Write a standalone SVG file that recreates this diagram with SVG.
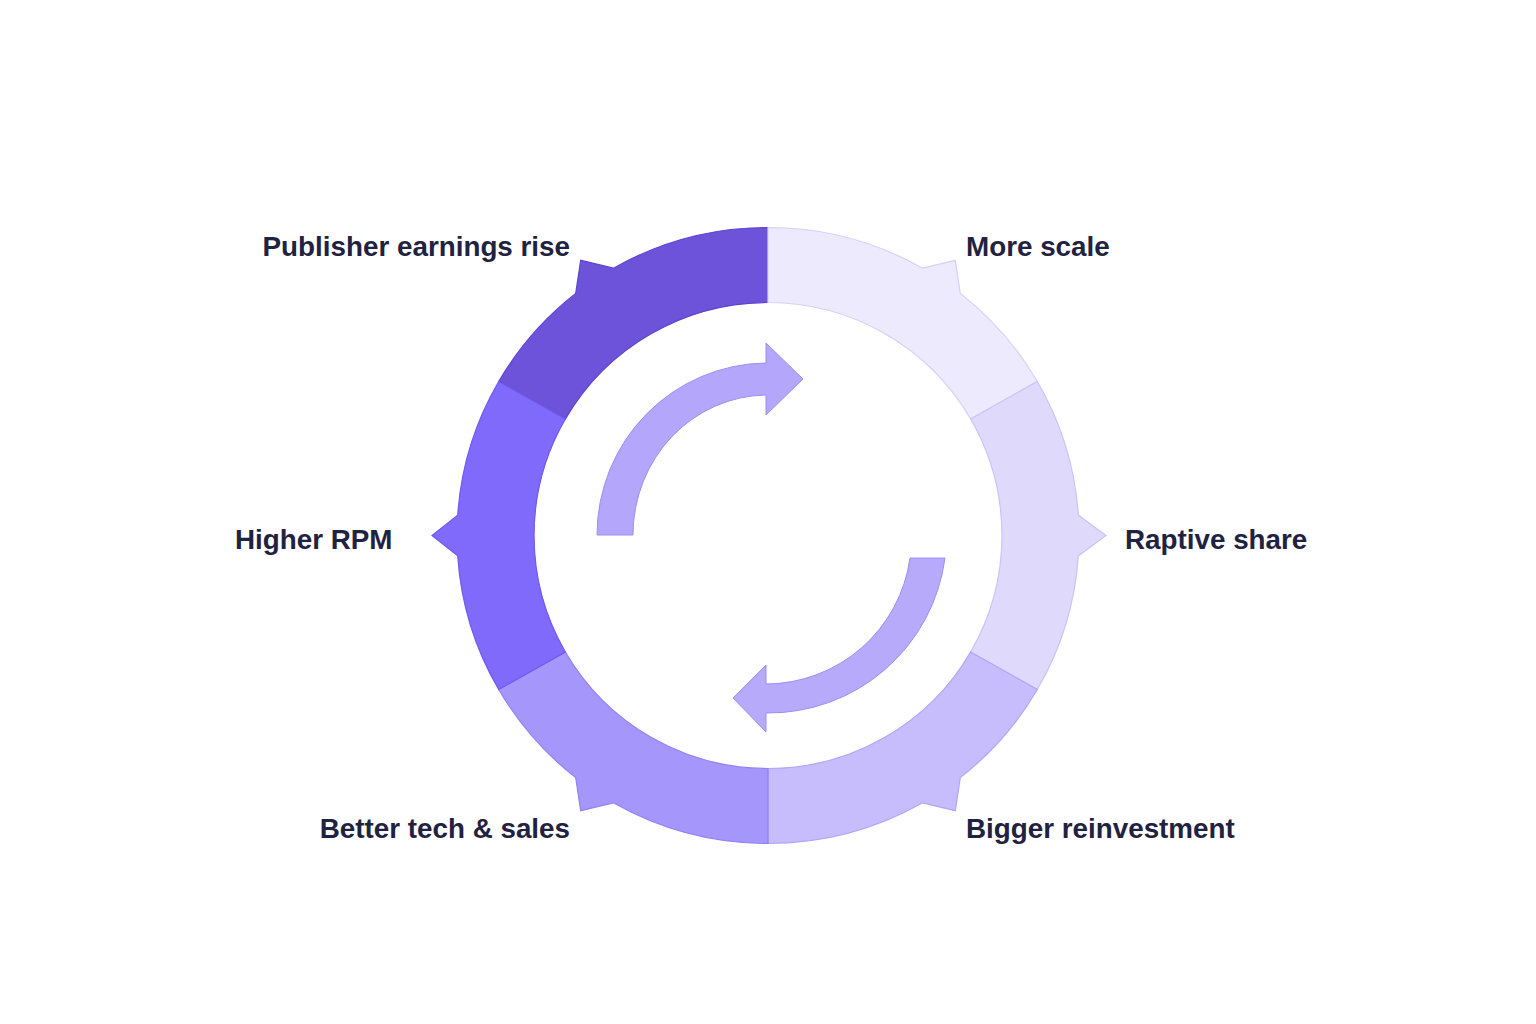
<svg xmlns="http://www.w3.org/2000/svg" width="1536" height="1024" viewBox="0 0 1536 1024">
<style>
.lbl{font-family:"Liberation Sans",Arial,sans-serif;font-weight:700;font-size:27.8px;fill:#1F2240}
.seg{stroke-width:1.2;stroke-linejoin:miter}
.arr{fill:#B3A6FB;stroke:#9E8EF4;stroke-width:1}
</style>
<rect width="1536" height="1024" fill="#FFFFFF"/>
<g id="ring">
<g id="seg-publisher"><path class="seg" fill="#6C53D9" stroke="#5E45CF" d="M498.7,381.5 A311,308 0 0 1 575.7,293.4 L580.7,260.3 L613.4,268.2 A311,308 0 0 1 768,227.5 L768,302.5 A234,233 0 0 0 565.4,419 Z"/></g>
<g id="seg-morescale"><path class="seg" fill="#EDEAFD" stroke="#D6D0FA" d="M768,227.5 A311,308 0 0 1 922.6,268.2 L955.3,260.3 L960.3,293.4 A311,308 0 0 1 1037.3,381.5 L970.6,419 A234,233 0 0 0 768,302.5 Z"/></g>
<g id="seg-raptive"><path class="seg" fill="#DFDAFC" stroke="#CBC3FA" d="M1037.3,381.5 A311,308 0 0 1 1078.3,515.1 L1106,535.5 L1078.3,555.9 A311,308 0 0 1 1037.3,689.5 L970.6,652 A234,233 0 0 0 970.6,419 Z"/></g>
<g id="seg-reinvest"><path class="seg" fill="#C7BDFC" stroke="#B2A5F8" d="M1037.3,689.5 A311,308 0 0 1 960.3,777.6 L955.3,810.7 L922.6,802.8 A311,308 0 0 1 768,843.5 L768,768.5 A234,233 0 0 0 970.6,652 Z"/></g>
<g id="seg-tech"><path class="seg" fill="#A596FC" stroke="#9282F6" d="M768,843.5 A311,308 0 0 1 613.4,802.8 L580.7,810.7 L575.7,777.6 A311,308 0 0 1 498.7,689.5 L565.4,652 A234,233 0 0 0 768,768.5 Z"/></g>
<g id="seg-rpm"><path class="seg" fill="#806AFB" stroke="#705AF0" d="M498.7,689.5 A311,308 0 0 1 457.7,555.9 L432,535.5 L457.7,515.1 A311,308 0 0 1 498.7,381.5 L565.4,419 A234,233 0 0 0 565.4,652 Z"/></g>
</g>
<g id="connectors">
<path class="arr" d="M597,535 A171,172 0 0 1 766,363 L766,343 L803,379 L766,415 L766,395 A135,140 0 0 0 633,535 Z"/>
<path class="arr" style="fill:#B7AAFB" d="M910,558 L945,558 A178,178 0 0 1 766,713 L766,732 L733,698 L766,665 L766,684 A146,146 0 0 0 910,558 Z"/>
</g>
<g id="labels">
<g id="lbl-publisher"><text class="lbl" x="570" y="256" text-anchor="end">Publisher earnings rise</text></g>
<g id="lbl-morescale"><text class="lbl" x="966" y="256">More scale</text></g>
<g id="lbl-rpm"><text class="lbl" x="235" y="549">Higher RPM</text></g>
<g id="lbl-raptive"><text class="lbl" x="1125" y="549">Raptive share</text></g>
<g id="lbl-tech"><text class="lbl" x="570" y="838" text-anchor="end">Better tech &amp; sales</text></g>
<g id="lbl-reinvest"><text class="lbl" x="966" y="838">Bigger reinvestment</text></g>
</g>
</svg>
